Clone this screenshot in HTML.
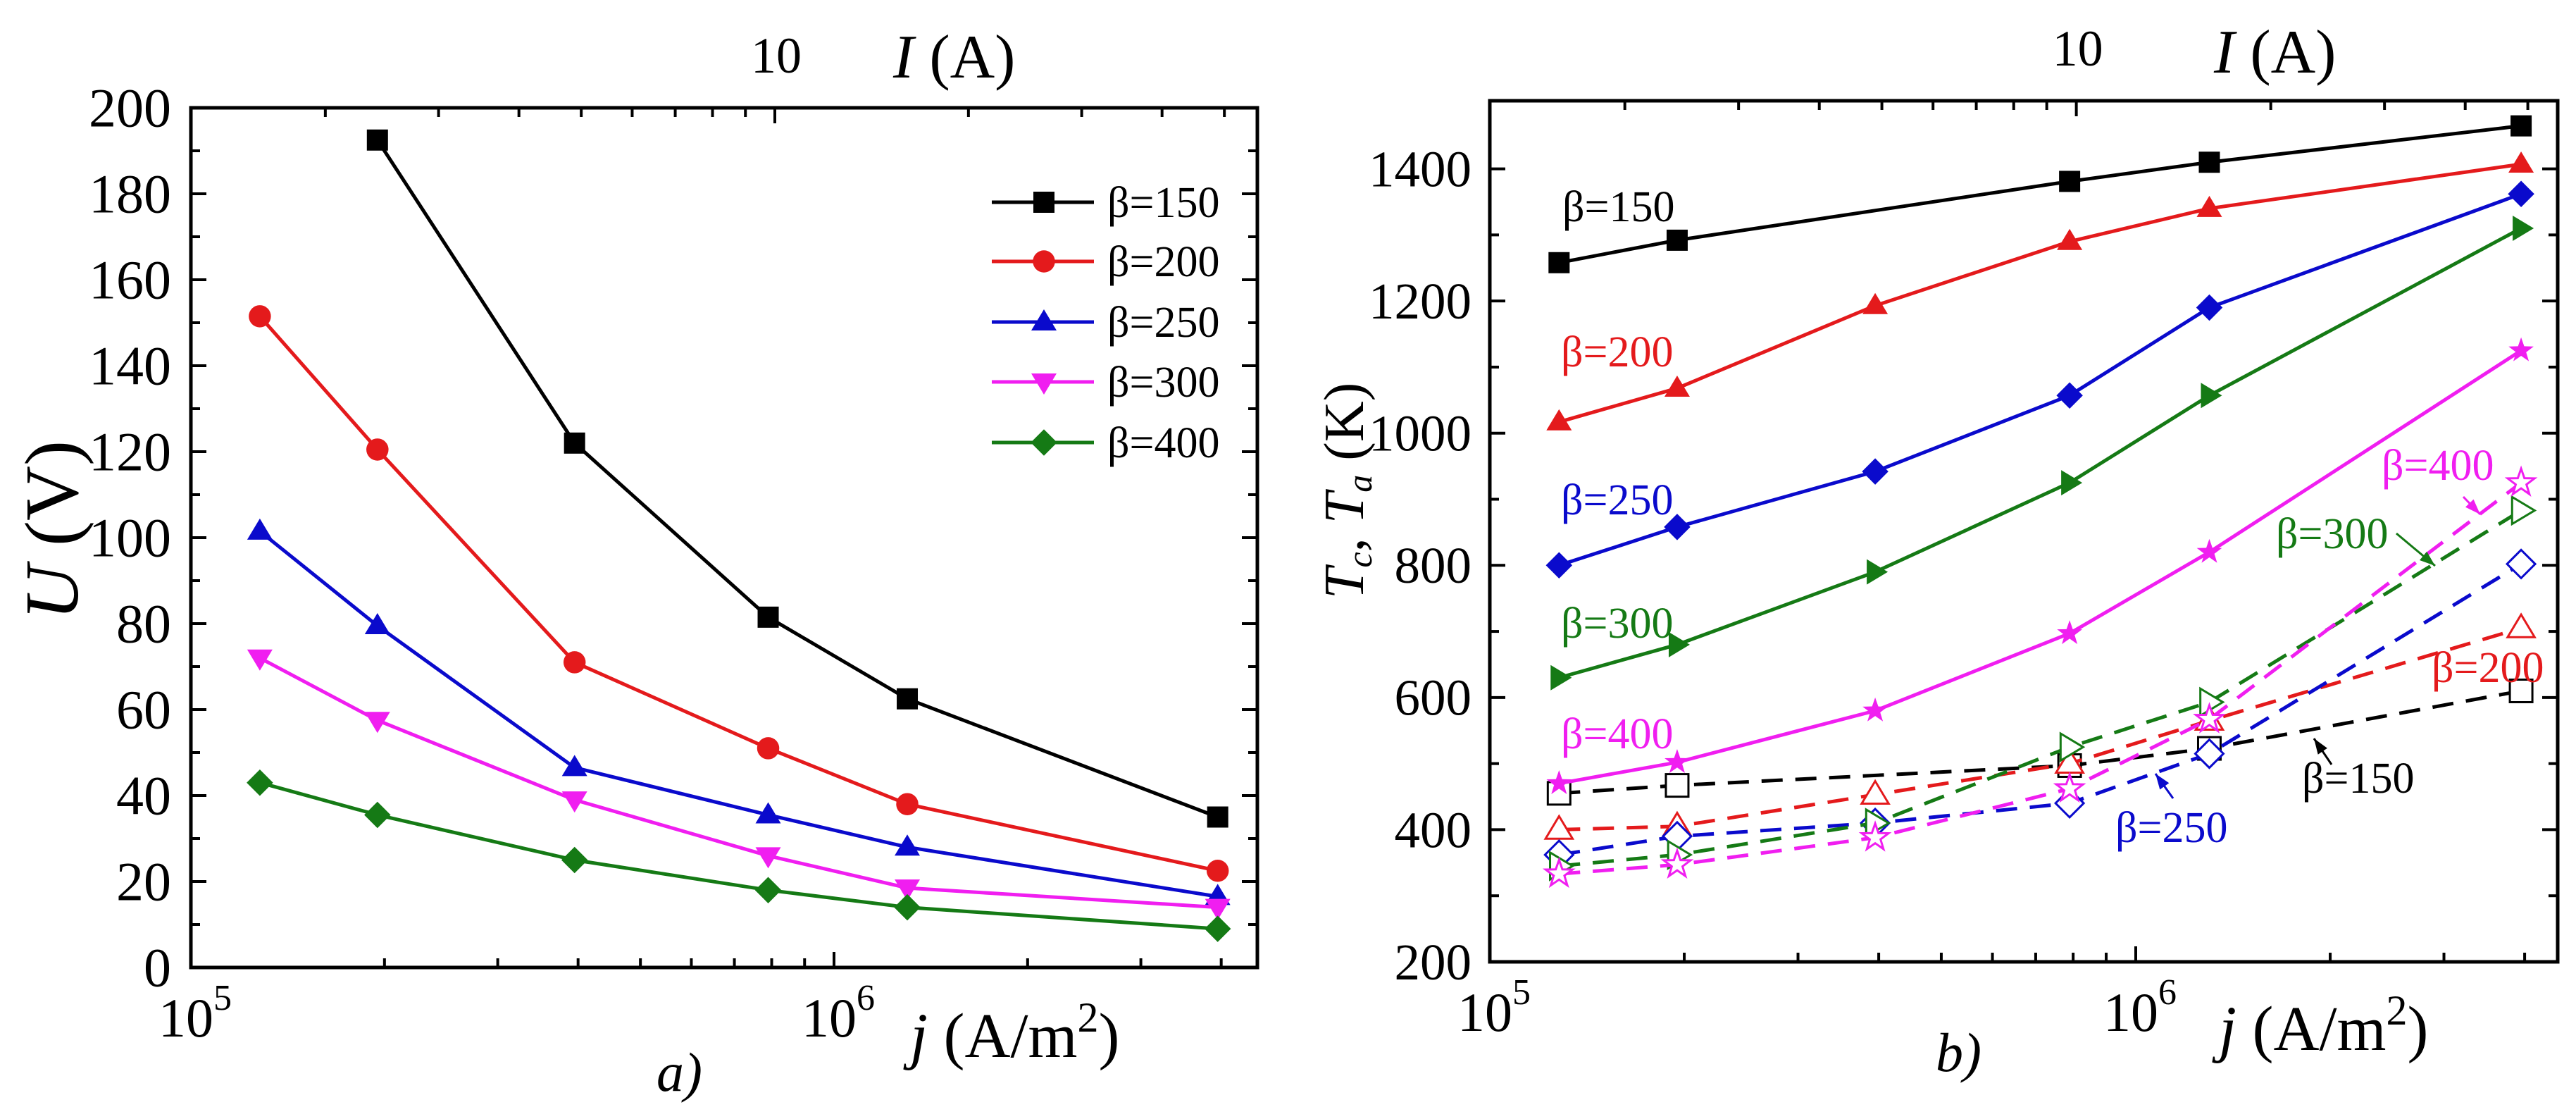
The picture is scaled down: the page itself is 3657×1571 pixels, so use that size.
<!DOCTYPE html>
<html><head><meta charset="utf-8">
<style>
html,body{margin:0;padding:0;background:#fff;}
svg{display:block;font-family:"Liberation Serif","DejaVu Serif",serif;}
</style></head>
<body>
<svg id="fig" width="3657" height="1571" viewBox="0 0 3657 1571" xmlns="http://www.w3.org/2000/svg">
<rect width="3657" height="1571" fill="#fff"/>
<g id="pa"></g>
<g id="pb"></g>
</svg>
<script>
// ---- data ----
const jValues = [1.28e5, 1.95e5, 3.95e5, 7.9e5, 1.3e6, 3.95e6];
const seriesNames = ["β=150","β=200","β=250","β=300","β=400"];
// panel a: U (V)
const U150 = [null, 192.5, 122, 81.5, 62.5, 35];
const U200 = [151.5, 120.5, 71, 51, 38, 22.5];
const U250 = [101.5, 79.5, 46.5, 35.5, 28, 16.5];
const U300 = [72, 57.5, 39, 26, 18.5, 14];
const U400 = [43, 35.5, 25, 18, 14, 9];
// panel b: Tc (solid), Ta (dashed)
const Tc150 = [1258, 1292, null, 1381, 1410, 1465];
const Tc200 = [1017, 1068, 1193, 1290, 1340, 1407];
const Tc250 = [800, 858, 942, 1057, 1190, 1362];
const Tc300 = [630, 680, 790, 925, 1057, 1310];
const Tc400 = [470, 502, 580, 697, 820, 1125];
const Ta150 = [455, 467, null, 497, 523, 610];
const Ta200 = [400, 405, 453, 500, 565, 705];
const Ta250 = [362, 390, 410, 440, 515, 802];
const Ta300 = [345, 362, 410, 525, 593, 883];
const Ta400 = [333, 347, 388, 462, 567, 925];
const yTicksA = [0,20,40,60,80,100,120,140,160,180,200];
const yTicksB = [200,400,600,800,1000,1200,1400];

const NS="http://www.w3.org/2000/svg";
function mk(parent, tag, attrs, text){
  const e=document.createElementNS(NS,tag);
  for(const k in attrs) e.setAttribute(k,attrs[k]);
  if(text!==undefined) e.textContent=text;
  parent.appendChild(e); return e;
}
function makeAxes(P){
  const xs=v=>P.x0+P.dec*Math.log10(v/1e5);
  const ys=v=>P.y1-(v-P.ymin)*(P.y1-P.y0)/(P.ymax-P.ymin);
  return {xs,ys};
}
function marker(g,type,x,y,s,col,open){
  const fill=open?"#fff":col, sw=open?3:0, st=open?col:"none";
  let e;
  if(type==="square") e=mk(g,"rect",{x:x-s,y:y-s,width:2*s,height:2*s,fill:fill,stroke:st,"stroke-width":sw});
  else if(type==="circle") e=mk(g,"circle",{cx:x,cy:y,r:s*1.05,fill:fill,stroke:st,"stroke-width":sw});
  else {
    let pts;
    if(type==="up") pts=[[x,y-s*1.2],[x+s*1.2,y+s*0.8],[x-s*1.2,y+s*0.8]];
    else if(type==="down") pts=[[x,y+s*1.2],[x+s*1.2,y-s*0.8],[x-s*1.2,y-s*0.8]];
    else if(type==="right") pts=[[x+s*1.2,y],[x-s*0.8,y-s*1.2],[x-s*0.8,y+s*1.2]];
    else if(type==="diamond") pts=[[x,y-s*1.25],[x+s*1.25,y],[x,y+s*1.25],[x-s*1.25,y]];
    else if(type==="star"){pts=[];for(let i=0;i<10;i++){const r=i%2?s*0.5:s*1.25;const a=-Math.PI/2+i*Math.PI/5;pts.push([x+r*Math.cos(a),y+r*Math.sin(a)]);}}
    e=mk(g,"polygon",{points:pts.map(p=>p.join(",")).join(" "),fill:fill,stroke:st,"stroke-width":sw});
  }
  return e;
}
function drawSeries(g,ax,vals,col,type,size,dashed,name){
  const sg=mk(g,"g",{});
  
  
  const pts=[];
  vals.forEach((v,i)=>{ if(v!==null) pts.push([ax.xs(jValues[i]),ax.ys(v)]); });
  const ln=mk(sg,"polyline",{points:pts.map(p=>p.join(",")).join(" "),fill:"none",stroke:col,"stroke-width":5,"stroke-dasharray":dashed?"30 18":"none"});
  
  
  pts.forEach(p=>{
    const m=marker(sg,type,p[0],p[1],size,col,dashed);
    
    
  });
}
function drawFrame(g,P,ax,yTicks,minorStep,tickFont,labelDx){
  const fr=mk(g,"rect",{x:P.x0,y:P.y0,width:P.x1-P.x0,height:P.y1-P.y0,fill:"none",stroke:"#000","stroke-width":5});
  
  
  for(let v=P.ymin; v<=P.ymax+0.01; v+=minorStep){
    const y=ax.ys(v); const major=yTicks.indexOf(Math.round(v))>=0; const L=major?22:13;
    if(y<P.y0+3||y>P.y1-3) continue;
    mk(g,"line",{x1:P.x0,y1:y,x2:P.x0+L,y2:y,stroke:"#000","stroke-width":4});
    mk(g,"line",{x1:P.x1,y1:y,x2:P.x1-L,y2:y,stroke:"#000","stroke-width":4});
  }
  yTicks.forEach(v=>{
    const t=mk(g,"text",{x:P.x0-labelDx,y:ax.ys(v)+tickFont*0.34,"font-size":tickFont,"text-anchor":"end"},String(v));
    
    
  });
  const xmax=Math.pow(10,5+(P.x1-P.x0)/P.dec);
  [1e5,1e6].forEach(d=>{for(let k=1;k<10;k++){const v=d*k;if(v>xmax||(d===1e5&&k===1))continue;const x=ax.xs(v);const L=k===1?22:13;
    mk(g,"line",{x1:x,y1:P.y1,x2:x,y2:P.y1-L,stroke:"#000","stroke-width":4});}});
  const off=0.908;
  for(let k=1;k<10;k++){[off-1+Math.log10(k),off+Math.log10(k)].forEach(o=>{
    if(o<=0.01||o>=(P.x1-P.x0)/P.dec-0.01)return;const x=P.x0+o*P.dec;const L=(k===1)?22:13;
    mk(g,"line",{x1:x,y1:P.y0,x2:x,y2:P.y0+L,stroke:"#000","stroke-width":4});});}
  [[1e5,"5"],[1e6,"6"]].forEach(([v,e])=>{
    const x=ax.xs(v);
    const t=mk(g,"text",{x:x-46,y:P.y1+98,"font-size":78},"10");
    
    
    mk(t,"tspan",{dy:-38,"font-size":52},e);
  });
  const tt=mk(g,"text",{x:P.x0+off*P.dec-34,y:P.y0-50,"font-size":72},"10");
  
  
}

// ---------- Panel A ----------
const PA={x0:271,x1:1785,y0:153,y1:1373,ymin:0,ymax:200,dec:913};
const axA=makeAxes(PA);
const ga=document.getElementById("pa");
drawFrame(ga,PA,axA,yTicksA,10,78,28);
const typesA=["square","circle","up","down","diamond"];
const colA=["#000","#e41a1c","#0a0acc","#f01ef0","#157a15"];
[U150,U200,U250,U300,U400].forEach((s,i)=>drawSeries(ga,axA,s,colA[i],typesA[i],15,false,"series-a-"+seriesNames[i].slice(2)));
const legYs=[287,371,457,542,628];
seriesNames.forEach((n,i)=>{
  const lg=mk(ga,"g",{});
  
  
  mk(lg,"line",{x1:1408,y1:legYs[i],x2:1553,y2:legYs[i],stroke:colA[i],"stroke-width":5});
  marker(lg,typesA[i],1482,legYs[i],15,colA[i],false);
  mk(lg,"text",{x:1572,y:legYs[i]+21,"font-size":62},n);
});
function title(g,x,y,size,html,name,rot){
  const t=mk(g,"text",{x:x,y:y,"font-size":size});
  if(rot) t.setAttribute("transform","rotate(-90 "+x+" "+y+")");
  t.innerHTML=html;
  
  
  return t;
}
title(ga,1268,110,88,'<tspan font-style="italic">I</tspan> (A)','top-axis-title');
title(ga,110,880,108,'<tspan font-style="italic">U</tspan> (V)','y-axis-title',true);
title(ga,1292,1500,90,'<tspan font-style="italic">j</tspan> (A/m<tspan dy="-36" font-size="60">2</tspan><tspan dy="36">)</tspan>','x-axis-title');
title(ga,932,1548,78,'<tspan font-style="italic">a)</tspan>','panel-label-a');

// ---------- Panel B ----------
const PB={x0:2115,x1:3631,y0:143,y1:1365,ymin:200,ymax:1503,dec:917};
const axB=makeAxes(PB);
const gb=document.getElementById("pb");
drawFrame(gb,PB,axB,yTicksB,100,73,26);
const typesB=["square","up","diamond","right","star"];
const colB=["#000","#e41a1c","#0a0acc","#157a15","#f01ef0"];
const namesB=["β=150","β=200","β=250","β=300","β=400"];
[Ta150,Ta200,Ta250,Ta300,Ta400].forEach((s,i)=>drawSeries(gb,axB,s,colB[i],typesB[i],16,true,"series-ta-"+namesB[i].slice(2)));
[Tc150,Tc200,Tc250,Tc300,Tc400].forEach((s,i)=>drawSeries(gb,axB,s,colB[i],typesB[i],15,false,"series-tc-"+namesB[i].slice(2)));
const annL=[[2218,314,0],[2216,520,1],[2216,730,2],[2216,905,3],[2216,1062,4]];
annL.forEach(([x,y,i])=>{const t=mk(gb,"text",{x:x,y:y,"font-size":62,fill:colB[i]},namesB[i]);
  
  });
const annR=[[3381,681,4],[3231,778,3],[3452,968,1],[3268,1125,0],[3003,1195,2]];
annR.forEach(([x,y,i])=>{const t=mk(gb,"text",{x:x,y:y,"font-size":62,fill:colB[i]},namesB[i]);
  
  });
function arrow(x1,y1,x2,y2,col,name){
  const g=mk(gb,"g",{});
  
  
  mk(g,"line",{x1:x1,y1:y1,x2:x2,y2:y2,stroke:col,"stroke-width":3});
  const a=Math.atan2(y2-y1,x2-x1),L=22,W=8;
  const p=[[x2,y2],[x2-L*Math.cos(a)+W*Math.sin(a),y2-L*Math.sin(a)-W*Math.cos(a)],[x2-L*Math.cos(a)-W*Math.sin(a),y2-L*Math.sin(a)+W*Math.cos(a)]];
  mk(g,"polygon",{points:p.map(q=>q.join(",")).join(" "),fill:col});
}
arrow(3497,705,3521,730,"#f01ef0","arrow-400");
arrow(3402,757,3457,803,"#157a15","arrow-300");
arrow(3310,1085,3285,1048,"#000","arrow-150");
arrow(3085,1133,3060,1098,"#0a0acc","arrow-250");
title(gb,3143,103,88,'<tspan font-style="italic">I</tspan> (A)','top-axis-title-b');
title(gb,1935,850,80,'<tspan font-style="italic">T</tspan><tspan font-size="50" dy="12" font-style="italic">c</tspan><tspan dy="-12">, </tspan><tspan font-style="italic">T</tspan><tspan font-size="50" dy="12" font-style="italic">a</tspan><tspan dy="-12"> (K)</tspan>','y-axis-title-b',true);
title(gb,3150,1490,90,'<tspan font-style="italic">j</tspan> (A/m<tspan dy="-36" font-size="60">2</tspan><tspan dy="36">)</tspan>','x-axis-title-b');
title(gb,2748,1520,78,'<tspan font-style="italic">b)</tspan>','panel-label-b');
</script>
</body></html>
